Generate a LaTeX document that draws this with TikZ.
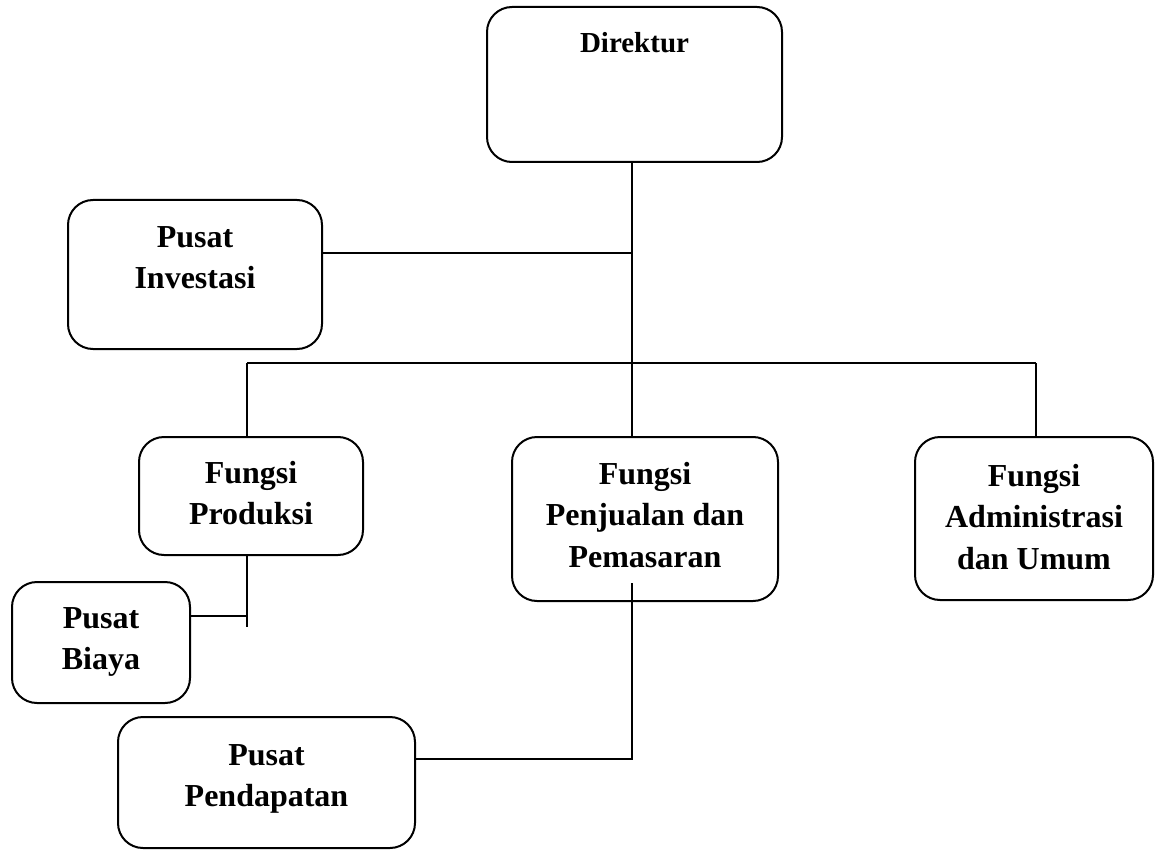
\documentclass[tikz,border=0pt]{standalone}
\usepackage{fontspec}
\setmainfont{Liberation Serif}
\usepackage{tikz}
\definecolor{boxline}{gray}{0.0}

\begin{document}
\begin{tikzpicture}[x=1pt, y=-1pt,
		box/.style={draw=boxline, line width=2pt, rounded corners=25pt, inner sep=0pt},
		lbl/.style={anchor=north, align=center, inner sep=0pt, font=\fontsize{32}{41.5}\selectfont\bfseries},
		link/.style={draw=boxline, line width=2pt}]
		\useasboundingbox (0,0) rectangle (1155,850);
		
		\node[box, minimum width=295pt, minimum height=155pt] (dir) at (634.5,84.5) {};
		\node[lbl, font=\fontsize{29}{38}\selectfont\bfseries] (dirtext) at ([yshift=-26pt]dir.north) {Direktur};
		
		\node[box, minimum width=254pt, minimum height=149pt] (inv) at (195,274.5) {};
		\node[lbl] (invtext) at ([yshift=-27pt]inv.north) {Pusat\\Investasi};
		
		\node[box, minimum width=224pt, minimum height=118pt] (prod) at (251,496) {};
		\node[lbl] (prodtext) at ([yshift=-25pt]prod.north) {Fungsi\\Produksi};
		
		\node[box, minimum width=266pt, minimum height=164pt] (jual) at (645,519) {};
		\node[lbl] (jualtext) at ([yshift=-26pt]jual.north) {Fungsi\\Penjualan dan\\Pemasaran};
		
		\node[box, minimum width=238pt, minimum height=163pt] (adm) at (1034,518.5) {};
		\node[lbl] (admtext) at ([yshift=-28pt]adm.north) {Fungsi\\Administrasi\\dan Umum};
		
		\node[box, minimum width=178pt, minimum height=121pt] (biaya) at (101,642.5) {};
		\node[lbl] (biayatext) at ([yshift=-26pt]biaya.north) {Pusat\\Biaya};
		
		\node[box, minimum width=297pt, minimum height=131pt] (pend) at (266.5,782.5) {};
		\node[lbl] (pendtext) at ([yshift=-28pt]pend.north) {Pusat\\Pendapatan};
		
		\coordinate (spine) at (632,253);
		\coordinate (barL) at (247,363);
		\coordinate (barR) at (1036,363);
		\coordinate (pj) at (247,616);
		\coordinate (ptail) at (247,627);
		\coordinate (sj) at (632,583);
		\coordinate (sk) at (632,759);
		
		\draw[link] (spine |- dir.south) -- (spine |- jual.north);
		\draw[link] (inv.east |- spine) -- (spine);
		\draw[link] (barL) -- (barR);
		\draw[link] (barL) -- (barL |- prod.north);
		\draw[link] (barR) -- (barR |- adm.north);
		\draw[link] (barL |- prod.south) -- (ptail);
		\draw[link] (biaya.east |- pj) -- (pj);
		\draw[link] (sj) -- (sk) -- (pend.east |- sk);
	\end{tikzpicture}
\end{document}
